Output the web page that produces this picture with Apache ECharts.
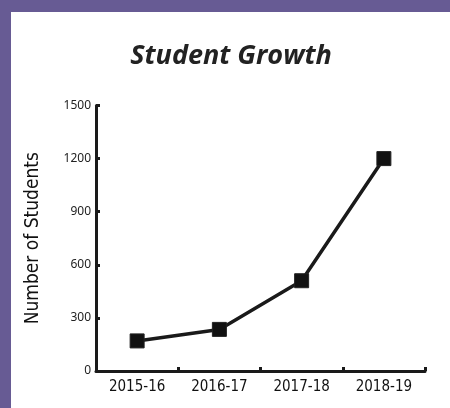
<!DOCTYPE html>
<html>
<head>
<meta charset="utf-8">
<script src="https://cdn.jsdelivr.net/npm/echarts@6/dist/echarts.min.js"></script>
<style>
html,body{margin:0;padding:0;background:#fff;}
#c{width:450px;height:408px;}
</style>
</head>
<body>
<div id="c"></div>
<script>
var categories = ['2015-16', '2016-17', '2017-18', '2018-19'];
var students = [170, 235, 510, 1200];
var yTicks = [0, 300, 600, 900, 1200, 1500];

var chart = echarts.init(document.getElementById('c'));
chart.setOption({
  backgroundColor: '#ffffff',
  animation: false,
  graphic: [
    {type: 'rect', left: 0, top: 0, shape: {width: 450, height: 12}, style: {fill: '#675b94'}},
    {type: 'rect', left: 0, top: 0, shape: {width: 11, height: 408}, style: {fill: '#675b94'}}
  ],
  title: {
    text: 'Student Growth',
    left: 226, top: 38, textAlign: 'center',
    textStyle: {fontFamily: 'Open Sans', fontStyle: 'italic', fontWeight: 'bold', fontSize: 27, color: '#222'}
  },
  grid: {left: 96, right: 25, top: 105.5, bottom: 37},
  xAxis: {
    type: 'category',
    data: categories,
    boundaryGap: true,
    axisLine: {lineStyle: {color: '#1a1a1a', width: 3}},
    axisTick: {show: true, inside: true, length: 4, lineStyle: {color: '#1a1a1a', width: 3}},
    axisLabel: {fontFamily: 'DejaVu Sans Condensed', fontSize: 15, color: '#111', margin: 9}
  },
  yAxis: {
    type: 'value',
    min: yTicks[0], max: yTicks[yTicks.length - 1], interval: 300,
    name: 'Number of Students',
    nameLocation: 'middle',
    nameGap: 53,
    nameTextStyle: {fontFamily: 'DejaVu Sans Condensed', fontSize: 19, color: '#111'},
    axisLine: {show: true, lineStyle: {color: '#1a1a1a', width: 3}},
    axisTick: {show: true, inside: true, length: 4, lineStyle: {color: '#1a1a1a', width: 3}},
    axisLabel: {fontFamily: 'Noto Sans', fontSize: 12, color: '#222', margin: 5, formatter: function (v) { return String(v); }},
    splitLine: {show: false}
  },
  series: [{
    type: 'line',
    data: students,
    symbol: 'rect',
    symbolSize: 14,
    lineStyle: {color: '#1a1a1a', width: 3.5},
    itemStyle: {color: '#111', borderColor: '#222', borderWidth: 1}
  }]
});
</script>
</body>
</html>
